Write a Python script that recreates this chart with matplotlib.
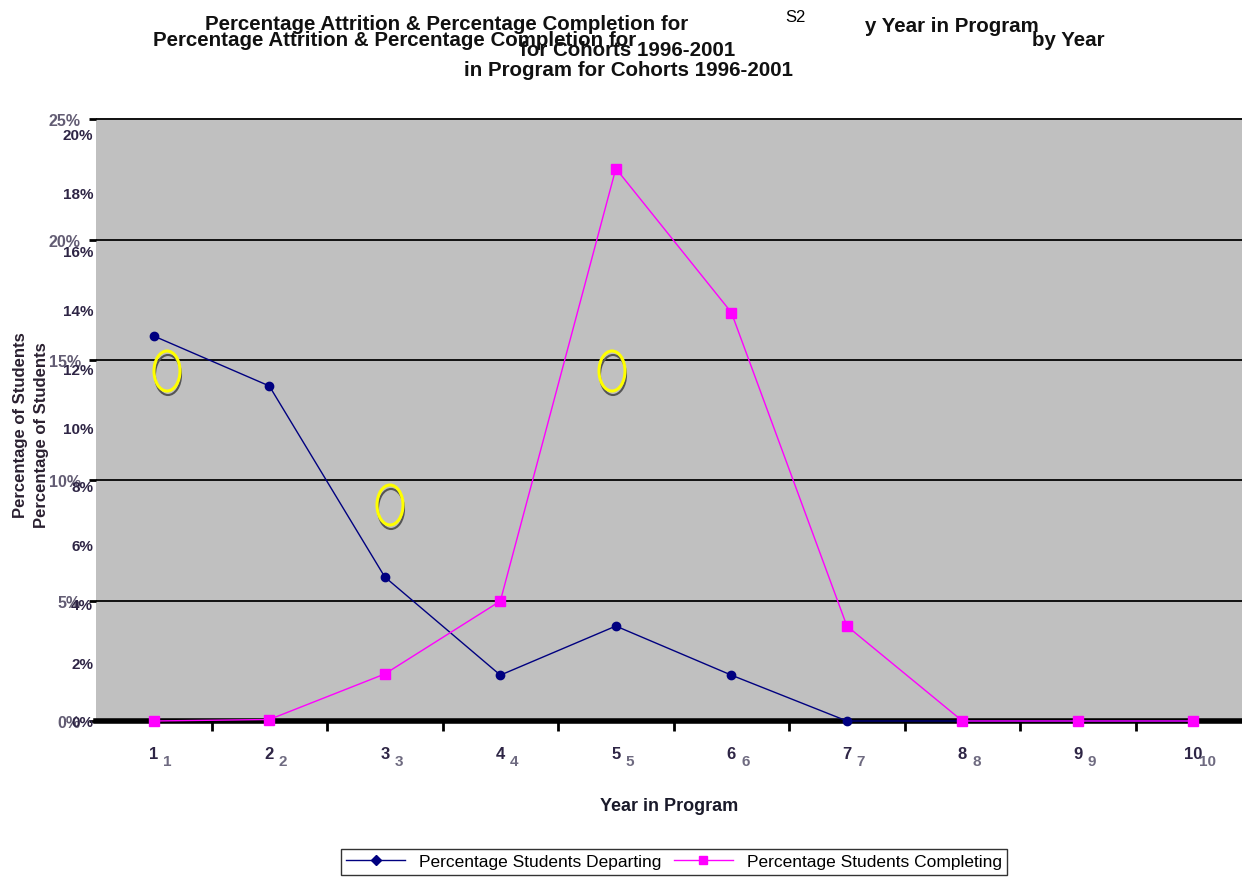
import numpy as np
import matplotlib.pyplot as plt
from matplotlib.patches import Ellipse
from matplotlib.lines import Line2D
from matplotlib.transforms import blended_transform_factory

plt.rcParams["font.family"] = ["Liberation Sans", "DejaVu Sans"]

years = np.arange(1, 11)
year_labels = ["1", "2", "3", "4", "5", "6", "7", "8", "9", "10"]
departing = [13.1, 11.4, 4.9, 1.56, 3.23, 1.56, 0, 0, 0, 0]
completing = [0, 0.05, 1.6, 4.08, 18.8, 13.9, 3.23, 0, 0, 0]
pct_ticks = [0, 2, 4, 6, 8, 10, 12, 14, 16, 18, 20]
grid_ticks = [0, 5, 10, 15, 20, 25]

navy = "#000080"
pink = "#ff00ff"
label_col = "#2e2545"

fig = plt.figure(figsize=(12.42, 8.78), dpi=100)
fig.patch.set_facecolor("white")

# plot area (grey), second scale carries the black gridlines
ax2 = fig.add_axes([0.0773, 0.1777, 0.9227, 0.6868])
ax2.set_facecolor("#c0c0c0")
ax2.set_ylim(0, 25.06)
ax2.set_xlim(0.5, 10.42)
ax2.set_yticks(grid_ticks)
ax2.set_yticklabels([f"{v}%" for v in grid_ticks], fontsize=11.5, fontweight="bold",
                    color="#3b3350", alpha=0.8)
ax2.tick_params(axis="y", length=5, width=2, color="black", pad=6, direction="out")
ax2.tick_params(axis="x", bottom=False, labelbottom=False)
ax2.grid(axis="y", color="#111111", linewidth=1.4)
for s in ax2.spines.values():
    s.set_visible(False)

# data axes on top
ax = fig.add_axes([0.0773, 0.1777, 0.9227, 0.6868])
ax.patch.set_visible(False)
ax.set_xlim(0.5, 10.42)
ax.set_ylim(0, 20.52)
ax.set_yticks(pct_ticks)
ax.set_yticklabels([f"{v}%" for v in pct_ticks], fontsize=11, fontweight="bold", color=label_col)
ax.tick_params(axis="y", length=0, pad=2)
for side in ["left", "right", "top"]:
    ax.spines[side].set_visible(False)
ax.spines["bottom"].set_linewidth(4)
ax.spines["bottom"].set_color("black")

ax.set_xticks(years)
ax.set_xticklabels(year_labels, fontsize=12, fontweight="bold", color=label_col)
ax.tick_params(axis="x", length=0, pad=18)
ax.set_xticks(years[:-1] + 0.5, minor=True)
ax.tick_params(axis="x", which="minor", length=7, width=2, color="black")

# second set of category labels, slightly offset
trans = blended_transform_factory(ax.transData, ax.transAxes)
for x, lab in zip(years, year_labels):
    ax.text(x + 0.12, -0.055, lab, transform=trans, ha="center", va="top",
            fontsize=11, fontweight="bold", color="#4a4560", alpha=0.8)

ax.plot(years, departing, color=navy, linewidth=1, marker="o", markersize=6,
        zorder=4, clip_on=False, label="Percentage Students Departing")
ax.plot(years, completing, color=pink, linewidth=1, marker="s", markersize=7,
        zorder=5, clip_on=False, label="Percentage Students Completing")

ax.set_xlabel("Year in Program", fontsize=13, fontweight="bold", color="#1a1a2a", labelpad=26)

# doubled axis title
fig.text(21 / 1242, 1 - 425 / 878, "Percentage of Students", rotation=90, ha="center",
         va="center", fontsize=12, fontweight="bold", color="#2a2030")
fig.text(42 / 1242, 1 - 435 / 878, "Percentage of Students", rotation=90, ha="center",
         va="center", fontsize=12, fontweight="bold", color="#2a2030")

# overlapping chart titles
tkw = dict(fontsize=14.8, fontweight="bold", color="#111111", va="center")
fig.text(447 / 1242, 1 - 25 / 878, "Percentage Attrition & Percentage Completion for", ha="center", **tkw)
fig.text(952 / 1242, 1 - 27 / 878, "y Year in Program", ha="center", **tkw)
fig.text(628 / 1242, 1 - 50 / 878, "for Cohorts 1996-2001", ha="center", **tkw)
fig.text(395 / 1242, 1 - 40 / 878, "Percentage Attrition & Percentage Completion for", ha="center", **tkw)
fig.text(1068 / 1242, 1 - 41 / 878, "by Year", ha="center", **tkw)
fig.text(628 / 1242, 1 - 70 / 878, "in Program for Cohorts 1996-2001", ha="center", **tkw)
fig.text(795 / 1242, 1 - 18 / 878, "S2", ha="center", va="center", fontsize=12, color="black")

# highlight rings
for cx, cy in [(167, 372), (390, 506), (612, 372)]:
    fig.add_artist(Ellipse(((cx + 1) / 1242, 1 - (cy + 4) / 878), 26 / 1242, 40 / 878,
                           transform=fig.transFigure, fill=False, edgecolor="#555555",
                           linewidth=1.5))
    fig.add_artist(Ellipse((cx / 1242, 1 - cy / 878), 26 / 1242, 40 / 878,
                           transform=fig.transFigure, fill=False, edgecolor="#ffff00",
                           linewidth=2.2))

handles = [Line2D([], [], color=navy, marker="D", markersize=5, linewidth=1),
           Line2D([], [], color=pink, marker="s", markersize=6, linewidth=1)]
leg = fig.legend(handles, ["Percentage Students Departing", "Percentage Students Completing"],
                 loc="upper center", bbox_to_anchor=(674 / 1242, 1 - 850 / 878), ncol=2,
                 fontsize=12.5, frameon=True, fancybox=False, edgecolor="black",
                 handlelength=3.4, handletextpad=0.8, columnspacing=0.7, borderpad=0.3,
                 borderaxespad=0)
leg.get_frame().set_linewidth(1)

fig.savefig("out.png", dpi=100)
